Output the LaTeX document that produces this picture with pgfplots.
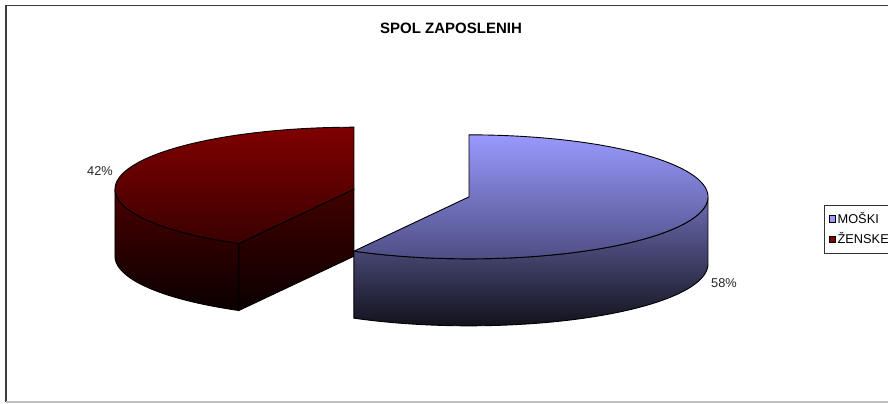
\documentclass[border=0pt]{standalone}
\usepackage{fontspec}
\setmainfont{Liberation Sans}
\usepackage{pgfplots}
\pgfplotsset{compat=1.18}
\definecolor{mTop}{RGB}{153,153,255}
\definecolor{mTopB}{RGB}{78,78,132}
\definecolor{mSideT}{RGB}{108,108,178}
\definecolor{mSideM}{RGB}{64,64,104}
\definecolor{mSideB}{RGB}{18,18,28}
\definecolor{fTop}{RGB}{128,0,0}
\definecolor{fTopB}{RGB}{58,0,0}
\definecolor{fSideT}{RGB}{74,0,0}
\definecolor{fSideB}{RGB}{10,0,0}
\definecolor{fCutT}{RGB}{66,0,0}
\definecolor{fCutB}{RGB}{10,0,0}
\definecolor{frame}{RGB}{60,60,60}

% data: share of employees by gender (%)
\def\valM{58}% MOŠKI
\def\valF{42}% ŽENSKE

% geometry of the 3D pie (in picture pixels)
\def\ra{239}\def\rb{62}\def\hh{67}
\def\cx{411.5}\def\cy{193}\def\dd{59.4}

% top face of a slice: centre, arc from th1 to th2, back to centre
\newcommand\topface[5]{%
\addplot[#1, forget plot, variable=\t, samples at={-1,0,1,...,80}]
 ({#2 + (\t>-0.5)*\ra*cos(#4 + max(\t,0)/80*(#5-#4))},
  {#3 - (\t>-0.5)*\rb*sin(#4 + max(\t,0)/80*(#5-#4))}) -- cycle;}
% outer side of a slice between th1 and th2
\newcommand\sideface[5]{%
\addplot[#1, forget plot, variable=\t, samples at={0,1,...,80,100,101,...,180}]
 ({#2 + \ra*cos((\t<90)*(#4+\t/80*(#5-#4)) + (\t>90)*(#5-(\t-100)/80*(#5-#4)))},
  {#3 - \rb*sin((\t<90)*(#4+\t/80*(#5-#4)) + (\t>90)*(#5-(\t-100)/80*(#5-#4))) + (\t>90)*\hh}) -- cycle;}
% radial cut face of a slice at angle th
\newcommand\cutface[4]{%
\addplot[#1, forget plot, variable=\t, samples at={0,1,2,3}]
 ({#2 + (\t>0.5)*(\t<2.5)*\ra*cos(#4)},
  {#3 - (\t>0.5)*(\t<2.5)*\rb*sin(#4) + (\t>1.5)*\hh}) -- cycle;}

\begin{document}
\begin{tikzpicture}
\pgfmathsetmacro\tot{\valM+\valF}
\pgfmathsetmacro\angM{\valM/\tot*360}
\pgfmathsetmacro\angF{\valF/\tot*360}
\pgfmathsetmacro\thM{90-\angM}          % end of MOŠKI (clockwise from 12 o'clock)
\pgfmathsetmacro\thF{\thM+360}          % start of ŽENSKE, same edge
\pgfmathsetmacro\midM{90-\angM/2}
\pgfmathsetmacro\midF{\thM-\angF/2}
\pgfmathsetmacro\cxM{\cx+\dd*cos(\midM)}
\pgfmathsetmacro\cyM{\cy-\dd*\rb/\ra*sin(\midM)}
\pgfmathsetmacro\cxF{\cx+\dd*cos(\midF)}
\pgfmathsetmacro\cyF{\cy-\dd*\rb/\ra*sin(\midF)}
\begin{axis}[
  width=444pt, height=201.5pt, scale only axis,
  xmin=0, xmax=888, ymin=0, ymax=403, y dir=reverse,
  hide axis, clip=false,
  legend style={at={(axis cs:824,205)}, anchor=north west,
    draw=black!80, line width=0.5pt, fill=white,
    font=\fontsize{6.4}{7.2}\selectfont,
    inner xsep=2.4pt, inner ysep=2.4pt, row sep=1.6pt,
    nodes={inner sep=0.8pt},
    /tikz/every even column/.append style={column sep=0.6pt}},
  legend cell align=left,
  legend image code/.code={\draw[#1, line width=0.35pt] (0pt,-1.6pt) rectangle (3pt,1.6pt);},
]
% ŽENSKE slice (behind)
\sideface{draw=black, line width=0.45pt, top color=fSideT, bottom color=fSideB}{\cxF}{\cyF}{180}{\thF}
\cutface{draw=black, line width=0.45pt, top color=fCutT, bottom color=fCutB}{\cxF}{\cyF}{\thF}
\topface{draw=black, line width=0.45pt, top color=fTop, bottom color=fTopB}{\cxF}{\cyF}{90}{\thF}
% MOŠKI slice (front)
\sideface{draw=black, line width=0.45pt, top color=mSideT, middle color=mSideM, bottom color=mSideB}{\cxM}{\cyM}{\thM}{0}
\topface{draw=black, line width=0.45pt, top color=mTop, bottom color=mTopB}{\cxM}{\cyM}{90}{\thM}

\addlegendimage{fill=mTop, draw=black}
\addlegendentry{MOŠKI}
\addlegendimage{fill=fTop, draw=black}
\addlegendentry{ŽENSKE}

\node[font=\fontsize{6.4}{7.2}\selectfont, text=black!85] at (axis cs:100,171) {\valF\%};
\node[font=\fontsize{6.4}{7.2}\selectfont, text=black!85] at (axis cs:724,283) {\valM\%};
\node[font=\bfseries\fontsize{7.5}{9}\selectfont] at (axis cs:451,28) {SPOL ZAPOSLENIH};

\draw[frame, line width=0.8pt] (axis cs:892,5.5) -- (axis cs:6,5.5) -- (axis cs:6,402);
\draw[black!25, line width=0.8pt] (axis cs:6,402) -- (axis cs:892,402);
\end{axis}
\pgfresetboundingbox
\path (0,0) rectangle (444pt,201.5pt);
\end{tikzpicture}
\end{document}
